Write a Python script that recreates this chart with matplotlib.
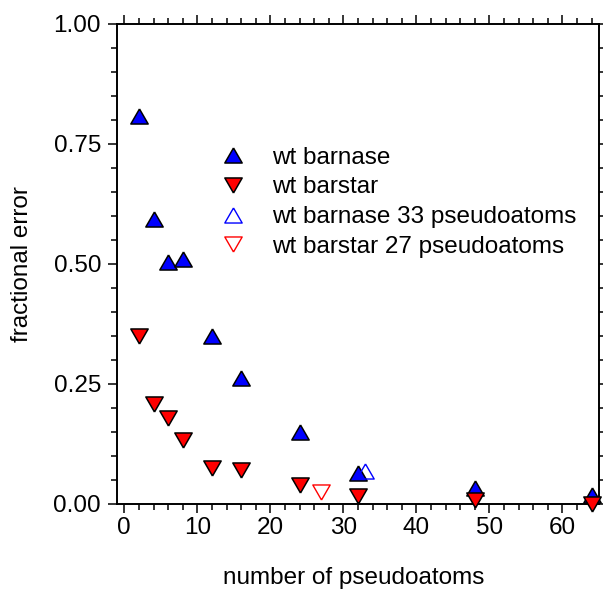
import matplotlib
matplotlib.use("Agg")
import matplotlib.pyplot as plt
from matplotlib.ticker import MultipleLocator, FixedLocator

plt.rcParams['font.family'] = ['Liberation Sans', 'DejaVu Sans']

# data
n_pseudo = [2, 4, 6, 8, 12, 16, 24, 32, 48, 64]
err_barnase = [0.808, 0.594, 0.505, 0.511, 0.350, 0.263, 0.149, 0.064, 0.034, 0.018]
err_barstar = [0.349, 0.208, 0.180, 0.134, 0.074, 0.071, 0.040, 0.017, 0.008, 0.000]
x_barnase33 = [33]
err_barnase33 = [0.069]
x_barstar27 = [27]
err_barstar27 = [0.025]
labels = ["wt barnase", "wt barstar", "wt barnase 33 pseudoatoms", "wt barstar 27 pseudoatoms"]
xticks = [0, 10, 20, 30, 40, 50, 60]
yticks = [0.00, 0.25, 0.50, 0.75, 1.00]

W, H = 603, 591
fig = plt.figure(figsize=(W / 100, H / 100), dpi=100)
L, R, T, B = 117, 599, 24, 504
ax = fig.add_axes([L / W, 1 - B / H, (R - L) / W, (B - T) / H])

up = [(0, 0.866), (-1, -0.866), (1, -0.866), (0, 0.866)]
down = [(0, -0.866), (-1, 0.866), (1, 0.866), (0, -0.866)]
ms = 12.5

ax.plot(n_pseudo, err_barnase, linestyle='none', marker=up, ms=ms, mfc='#0000ff',
        mec='black', mew=1.1, clip_on=False, label=labels[0], zorder=3)
ax.plot(n_pseudo, err_barstar, linestyle='none', marker=down, ms=ms, mfc='#ff0000',
        mec='black', mew=1.1, clip_on=False, label=labels[1], zorder=4)
ax.plot(x_barnase33, err_barnase33, linestyle='none', marker=up, ms=ms, mfc='none',
        mec='#0000ff', mew=1.0, clip_on=False, label=labels[2], zorder=3)
ax.plot(x_barstar27, err_barstar27, linestyle='none', marker=down, ms=ms, mfc='none',
        mec='#ff0000', mew=1.0, clip_on=False, label=labels[3], zorder=3)

ax.set_xlim(-1, 65)
ax.set_ylim(0, 1)
ax.xaxis.set_major_locator(FixedLocator(xticks))
ax.xaxis.set_minor_locator(MultipleLocator(2))
ax.yaxis.set_major_locator(FixedLocator(yticks))
ax.yaxis.set_minor_locator(MultipleLocator(0.05))
ax.set_yticklabels([f"{v:.2f}" for v in yticks])

for s in ax.spines.values():
    s.set_linewidth(1.4)

ax.tick_params(which='both', direction='out', top=True, right=True, width=1.1,
               labelsize=17.5, colors='black')
ax.tick_params(which='major', length=6.5)
ax.tick_params(which='minor', length=4.5)
ax.tick_params(axis='y', which='major', pad=5)
ax.tick_params(axis='x', which='major', pad=3)

fig.text(22 / W, 1 - 264 / H, "fractional error", rotation=90, ha='center', va='center',
         fontsize=17.5)
fig.text(354 / W, 1 - 578 / H, "number of pseudoatoms", ha='center', va='center',
         fontsize=17.5)

leg = ax.legend(loc='upper left', bbox_to_anchor=(220.5 / W, 1 - 146.5 / H),
                bbox_transform=fig.transFigure, frameon=False, fontsize=17.5,
                handlelength=1.0, handletextpad=1.1, labelspacing=0.32,
                borderpad=0, borderaxespad=0, numpoints=1)

fig.savefig("out.png", dpi=100)
